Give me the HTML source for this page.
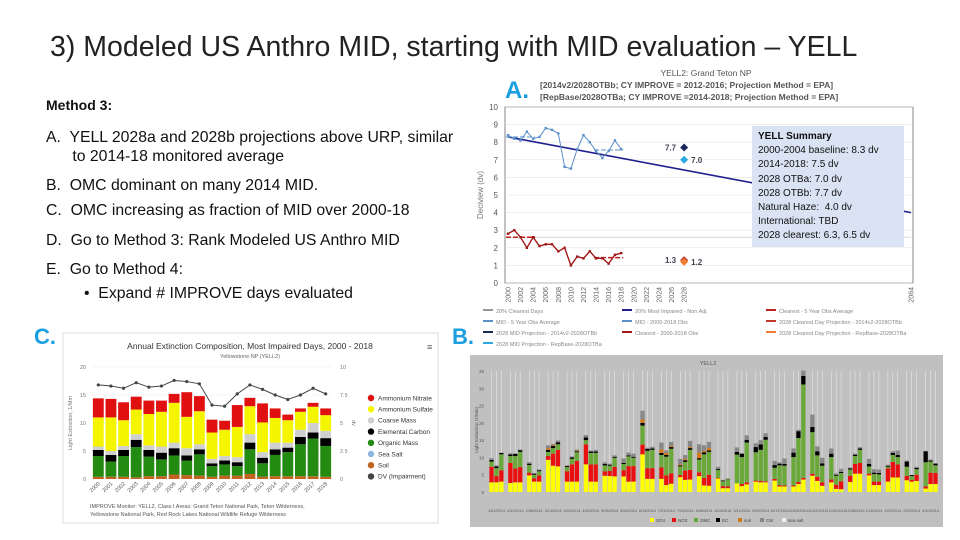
<!DOCTYPE html>
<html><head><meta charset="utf-8">
<style>
body{margin:0;width:960px;height:540px;background:#fff;position:relative;overflow:hidden;font-family:"Liberation Sans",sans-serif;}
.abs{position:absolute;}
.t{font-size:15.8px;color:#111;white-space:nowrap;}
svg{position:absolute;left:0;top:0;}
</style></head><body>
<div class="abs" style="left:50px;top:31px;font-size:28.5px;color:#222;white-space:nowrap;">3) Modeled US Anthro MID, starting with MID evaluation – YELL</div>
<div class="abs t" style="left:46px;top:97px;font-weight:bold;font-size:14px;">Method 3:</div>
<div class="abs t" style="left:46px;top:128px;line-height:19px;">A.&nbsp; YELL 2028a and 2028b projections above URP, similar<br>&nbsp;&nbsp;&nbsp;&nbsp;&nbsp; to 2014-18 monitored average</div>
<div class="abs t" style="left:46px;top:177px;">B.&nbsp; OMC dominant on many 2014 MID.</div>
<div class="abs t" style="left:46px;top:202px;">C.&nbsp; OMC increasing as fraction of MID over 2000-18</div>
<div class="abs t" style="left:46px;top:232px;">D.&nbsp; Go to Method 3: Rank Modeled US Anthro MID</div>
<div class="abs t" style="left:46px;top:261px;">E.&nbsp; Go to Method 4:</div>
<div class="abs t" style="left:84px;top:285px;">•&nbsp; Expand # IMPROVE days evaluated</div>
<div class="abs" style="left:505px;top:77px;font-size:24px;color:#1aa0e0;font-weight:bold;">A.</div>
<div class="abs" style="left:452px;top:324px;font-size:22px;color:#1aa0e0;font-weight:bold;">B.</div>
<div class="abs" style="left:34px;top:324px;font-size:22px;color:#1aa0e0;font-weight:bold;">C.</div>

<svg id="s" width="960" height="540"></svg>

<div class="abs" style="left:752px;top:126px;width:146px;height:117px;background:#dae3f3;padding:4px 0 0 6px;font-size:10px;line-height:14.2px;color:#111;white-space:nowrap;">
<b>YELL Summary</b><br>2000-2004 baseline: 8.3 dv<br>2014-2018: 7.5 dv<br>2028 OTBa: 7.0 dv<br>2028 OTBb: 7.7 dv<br>Natural Haze:&nbsp; 4.0 dv<br>International: TBD<br>2028 clearest: 6.3, 6.5 dv</div>

<script>
// ---------- Chart A data ----------
const aYears=[2000,2001,2002,2003,2004,2005,2006,2007,2008,2009,2010,2011,2012,2013,2014,2015,2016,2017,2018];
const aMid=[8.4,8.2,8.1,8.6,8.2,8.3,8.8,8.7,8.5,6.6,6.5,7.6,8.4,8.0,7.5,7.1,7.5,8.1,7.6];
const aClear=[2.8,3.0,2.6,2.0,2.6,2.1,2.2,2.2,1.8,2.0,1.0,1.5,1.4,1.8,1.4,1.4,1.1,1.6,1.7];
const aGlide=[8.3,4.0];
const aProj=[7.7,7.0,1.3,1.2];
const aTicks=[0,1,2,3,4,5,6,7,8,9,10];
// ---------- Chart C data ----------
const cYears=[2000,2001,2002,2003,2004,2005,2006,2007,2008,2009,2010,2011,2012,2013,2014,2015,2016,2017,2018];
const cSoil=[.4,.4,.4,.3,.5,.5,.8,.7,.6,.4,.6,.6,.9,.4,.5,.5,.5,.5,.4];
const cOM=[3.7,2.7,3.7,5.4,3.5,3.0,3.4,2.6,3.8,1.9,2.0,1.7,4.4,2.4,3.8,4.3,5.7,6.7,5.5];
const cEC=[1.1,1.2,1.1,1.3,1.2,1.2,1.3,0.9,0.9,0.5,0.7,0.7,1.2,1.0,1.0,0.8,1.3,1.1,1.4];
const cCM=[0.6,0.7,0.7,1.0,0.8,1.1,1.0,1.3,0.9,0.8,0.8,0.9,1.5,1.0,1.2,0.9,1.3,1.7,1.3];
const cSO4=[5.2,6.0,4.6,4.4,5.6,6.2,7.1,5.6,5.9,4.7,4.7,5.4,5.0,5.3,4.4,4.0,3.2,2.9,2.8];
const cNO3=[3.4,3.3,3.2,2.3,2.4,2.0,1.6,4.4,2.7,2.3,1.6,3.9,1.5,3.4,1.7,1.0,0.6,0.7,1.2];
const cDV=[8.4,8.3,8.1,8.6,8.2,8.3,8.8,8.7,8.5,6.6,6.5,7.6,8.4,8.0,7.5,7.1,7.5,8.1,7.6];
const cTicksL=[0,5,10,15,20];
const cTicksR=["0","2.5","5","7.5","10"];
// ---------- Chart B data (per bar: 24 dates x 3 bars) ----------
const bSO4=[2.8,2.8,3,2.6,2.8,2.8,4.8,3,3,9.3,7.6,7.4,3,3,3,8,3,3,4.7,4.6,4.5,4.5,3,3,10.9,3.8,3.8,3.8,2,2.4,4.3,3.5,3.6,4.6,1.9,1.8,3.9,1.1,1.1,2.5,1.7,2.2,3,2.8,2.8,3.3,1.6,1.6,1.6,2.3,3.6,4.7,3.2,1.8,2.8,.9,.8,2.9,5.3,5.3,4.8,2,2,3,4.2,4.2,3.4,3,3.2,1,2.3,2.3];
const bNO3=[4.5,1.8,3.3,5.8,4,4.4,.8,1,1.8,1.1,3.5,4.8,3,5,6,5.8,5,5,1.3,1.5,2.8,1.8,4.5,4.5,2.8,3.1,3.1,3.3,2.8,3,.6,2.7,2.8,1.1,2.2,3.2,.2,.6,.5,0,.6,.6,.3,.4,.3,.5,.4,.3,.3,.6,.5,.6,1.2,1,.8,1.2,2.3,1.8,2.8,3.1,.5,1,1,3.8,4.5,3.8,1.3,.5,1.8,.6,3.3,3.2];
const bOM=[1.5,2.3,4.6,2,3.6,4.4,2.2,1,1.2,1.2,1.6,1.6,1.2,1.6,2.5,1.2,3.3,3.3,1.7,1.5,2.6,1.8,2.8,2.4,5.5,5,5.3,3.6,5.4,7.1,2.5,2.5,5.8,3.7,6.8,6.6,2.3,1.4,2.1,8.3,7.8,11.5,8.2,9,12,3.2,5.7,5.7,8.2,12.7,27,12,6.2,4.8,6.5,2.6,2.4,1.8,2.3,3.8,2.1,2.2,2.1,.5,2,2.1,2.6,1.1,1.6,7,3.2,2.2];
const bEC=[.5,.5,.4,.5,.6,.5,.4,.3,.3,.6,.6,.6,.3,.4,.3,.8,.4,.4,.4,.3,.3,.3,.3,.3,.8,.6,.4,.6,.5,.5,.3,.5,.5,.4,.6,.4,.3,.2,.1,.8,1,.8,1.5,1.6,.8,.8,.5,.5,1.3,2,2.5,1.5,1.2,.7,1,.3,.3,.3,.4,.4,.7,.4,.4,.3,.6,.6,1.5,.3,.4,3.2,.3,.5];
const bSoil=[0,0,0,0,0,0,0,0,0,.5,.3,0,0,0,.2,0,0,0,0,0,0,0,0,0,1,0,0,1,.6,.3,.3,.4,.3,1.6,.4,.7,0,0,0,0,0,0,0,0,0,0,0,0,0,0,0,0,0,0,0,0,0,0,0,0,0,0,0,0,0,0,0,0,0,0,0,0];
const bCM=[.5,.3,0,.3,.2,.2,.4,.2,.2,.8,.3,.5,.2,.3,.3,.7,.3,.5,.5,.3,.4,1.3,.8,.9,2.5,.3,.5,2,.7,1.2,1.6,1.1,1.8,2.4,1.6,1.8,.6,.2,.1,1.3,0,1.3,1.1,1.2,1.1,1.2,.4,1.6,1.2,.4,1.5,3.6,1.4,1.6,1.5,.4,.9,.3,.3,.4,1.5,1,1,.3,.5,1.3,.3,0,.3,.1,.3,.2];
const bDates=["1/01/2014","1/31/2014","2/06/2014","3/14/2014","4/02/2014","4/20/2014","5/08/2014","5/26/2014","6/13/2014","7/01/2014","7/19/2014","8/06/2014","8/24/2014","9/11/2014","9/29/2014","10/17/2014","11/04/2014","11/22/2014","12/10/2014","12/28/2014","1/15/2014","2/02/2014","2/20/2014","3/10/2014"];

const S=document.getElementById('s');const NS='http://www.w3.org/2000/svg';
function mk(tag,at,txt){const e=document.createElementNS(NS,tag);for(const k in at)e.setAttribute(k,at[k]);if(txt!==undefined)e.textContent=txt;S.appendChild(e);return e;}

// ===== Chart A =====
const axL=505,axR=913,axT=107,axB=283;
const ay=v=>axB-(v/10)*(axB-axT);
const ax=yr=>yr<=2028?508+(yr-2000)*6.29:911;
let e;
e=mk('text',{x:706,y:76,'font-size':8.5,'text-anchor':'middle',fill:'#555'},'YELL2: Grand Teton NP');

e=mk('text',{x:540,y:88,'font-size':8.5,'font-weight':'bold',fill:'#555'},'[2014v2/2028OTBb; CY IMPROVE = 2012-2016; Projection Method = EPA]');

e=mk('text',{x:540,y:100,'font-size':8.5,'font-weight':'bold',fill:'#555'},'[RepBase/2028OTBa; CY IMPROVE =2014-2018; Projection Method = EPA]');

e=mk('rect',{x:axL,y:axT,width:axR-axL,height:axB-axT,fill:'#fff',stroke:'#666','stroke-width':0.8});

aTicks.forEach(t=>{
 e=mk('line',{x1:axL,x2:axR,y1:ay(t),y2:ay(t),stroke:'#e4e4e4','stroke-width':0.6});
 
 e=mk('text',{x:498,y:ay(t)+3,'font-size':8,fill:'#555','text-anchor':'end'},t);
 
});
e=mk('text',{x:0,y:0,'font-size':8,fill:'#777','text-anchor':'middle',transform:'translate(483,195) rotate(-90)'},'Deciview (dv)');

const xl=[];for(let y=2000;y<=2028;y+=2)xl.push(y);xl.push(2064);
xl.forEach(y=>{e=mk('text',{x:0,y:0,'font-size':7,fill:'#666','text-anchor':'end',transform:`translate(${ax(y)+2.5},287) rotate(-90)`},y);
 });
e=mk('line',{x1:ax(2000),y1:ay(aGlide[0]),x2:ax(2064),y2:ay(aGlide[1]),stroke:'#1f1f8f','stroke-width':1.6});

e=mk('line',{x1:ax(2000),x2:ax(2064),y1:ay(2.6),y2:ay(2.6),stroke:'#ccc','stroke-width':0.8});

function avg(a,i,j){let s=0;for(let k=i;k<j;k++)s+=a[k];return s/(j-i);}
[[0,5],[14,19]].forEach(([i,j])=>{
 e=mk('line',{x1:ax(aYears[i])-2,x2:ax(aYears[j-1])+2,y1:ay(avg(aMid,i,j)),y2:ay(avg(aMid,i,j)),stroke:'#6a9fd4','stroke-width':1.2,'stroke-dasharray':'5,2'});
 
 e=mk('line',{x1:ax(aYears[i])-2,x2:ax(aYears[j-1])+2,y1:ay(avg(aClear,i,j)),y2:ay(avg(aClear,i,j)),stroke:'#b22','stroke-width':1.5,'stroke-dasharray':'5,2'});
 
});
e=mk('polyline',{points:aYears.map((y,i)=>ax(y)+','+ay(aMid[i])).join(' '),fill:'none',stroke:'#5b8fc9','stroke-width':1});

e=mk('polyline',{points:aYears.map((y,i)=>ax(y)+','+ay(aClear[i])).join(' '),fill:'none',stroke:'#a01818','stroke-width':1.4});

aYears.forEach((y,i)=>{e=mk('rect',{x:ax(y)-1.2,y:ay(aMid[i])-1.2,width:2.4,height:2.4,fill:'#5b8fc9'});
 
 e=mk('rect',{x:ax(y)-1.2,y:ay(aClear[i])-1.2,width:2.4,height:2.4,fill:'#a01818'});
 });
const pc=['#1a2a5a','#2ea8e0','#c0392b','#f08030'];
aProj.forEach((v,i)=>{const cx=ax(2028),cy=ay(v);
 e=mk('path',{d:`M${cx},${cy-4} L${cx+4},${cy} L${cx},${cy+4} L${cx-4},${cy}Z`,fill:pc[i]});
 
 const left=(i%2==0);
 e=mk('text',{x:left?cx-8:cx+7,y:cy+3,'font-size':8,'font-weight':'bold',fill:'#445','text-anchor':left?'end':'start'},v.toFixed(1));
 });
const lg=[['20% Clearest Days',483,313,'#999'],['20% Most Impaired - Non Adj',622,313,'#1f1f8f'],['Clearest - 5 Year Obs Average',766,313,'#b22'],
['MID - 5 Year Obs Average',483,324,'#5b8fc9'],['MID - 2000-2018 Obs',622,324,'#5b8fc9'],['2028 Clearest Day Projection - 2014v2-2028OTBb',766,324,'#c0392b'],
['2028 MID Projection - 2014v2-2028OTBb',483,335,'#1a2a5a'],['Clearest - 2000-2018 Obs',622,335,'#a01818'],['2028 Clearest Day Projection - RepBase-2028OTBa',766,335,'#f08030'],
['2028 MID Projection - RepBase-2028OTBa',483,346,'#2ea8e0']];
lg.forEach(([t,x,y,c])=>{e=mk('rect',{x:x,y:y-4,width:10,height:2,fill:c});
 
 e=mk('text',{x:x+13,y:y,'font-size':5.5,fill:'#888'},t);
 });

// ===== Chart C =====
e=mk('rect',{x:63,y:333,width:375,height:190,fill:'#fff',stroke:'#ddd','stroke-width':1});

e=mk('text',{x:250,y:349,'font-size':8.5,'text-anchor':'middle',fill:'#333'},'Annual Extinction Composition, Most Impaired Days, 2000 - 2018');

e=mk('text',{x:250,y:358,'font-size':5.5,'text-anchor':'middle',fill:'#666'},'Yellowstone NP (YELL2)');

e=mk('text',{x:427,y:350,'font-size':9,fill:'#555'},'≡');

const cL=92,cR=332,cT=367,cB=479;
const cy=v=>cB-(v/20)*(cB-cT);const cyr=v=>cB-(v/10)*(cB-cT);
const cw=(cR-cL)/cYears.length;
cTicksL.forEach((t,i)=>{e=mk('line',{x1:cL,x2:cR,y1:cy(t),y2:cy(t),stroke:'#eee','stroke-width':0.6});
 
 e=mk('text',{x:cL-6,y:cy(t)+2,'font-size':5.5,fill:'#777','text-anchor':'end'},t);
 
 e=mk('text',{x:cR+8,y:cy(t)+2,'font-size':5.5,fill:'#777'},cTicksR[i]);
 });
e=mk('text',{x:0,y:0,'font-size':5.5,fill:'#777','text-anchor':'middle',transform:'translate(72,423) rotate(-90)'},'Light Extinction, 1/Mm');

e=mk('text',{x:0,y:0,'font-size':5.5,fill:'#777','text-anchor':'middle',transform:'translate(352,423) rotate(90)'},'dv');

const cSeries=[[cSoil,'#c2631f'],[cOM,'#238b12'],[cEC,'#000'],[cCM,'#cfcfcf'],[cSO4,'#f5f500'],[cNO3,'#e01010']];
cYears.forEach((yr,i)=>{let acc=0;const x=cL+i*cw+cw*0.07,w=cw*0.86;
 cSeries.forEach(([arr,col])=>{const v=arr[i];
  e=mk('rect',{x:x,y:cy(acc+v),width:w,height:cy(acc)-cy(acc+v),fill:col});
  acc+=v;});
 e=mk('text',{x:0,y:0,'font-size':5.5,fill:'#555','text-anchor':'end',transform:`translate(${x+w/2+2},${cB+5}) rotate(-45)`},yr);
 });
e=mk('polyline',{points:cYears.map((y,i)=>(cL+i*cw+cw/2)+','+cyr(cDV[i])).join(' '),fill:'none',stroke:'#444','stroke-width':1});

cYears.forEach((y,i)=>{e=mk('circle',{cx:cL+i*cw+cw/2,cy:cyr(cDV[i]),r:1.6,fill:'#444'});
 });
const cLeg=[['Ammonium Nitrate','#e01010'],['Ammonium Sulfate','#f5f500'],['Coarse Mass','#cfcfcf'],['Elemental Carbon','#000'],['Organic Mass','#238b12'],['Sea Salt','#8fb8e0'],['Soil','#c2631f'],['DV (Impairment)','#444']];
cLeg.forEach(([t,c],i)=>{const y=398+i*11.2;
 e=mk('circle',{cx:371,cy:y,r:3.2,fill:c});
 e=mk('text',{x:378,y:y+2.3,'font-size':6.5,fill:'#333'},t);});
e=mk('text',{x:90,y:508,'font-size':5.5,fill:'#555'},'IMPROVE Monitor: YELL2, Class I Areas: Grand Teton National Park, Teton Wilderness,');

e=mk('text',{x:90,y:516,'font-size':5.5,fill:'#555'},'Yellowstone National Park, Red Rock Lakes National Wildlife Refuge Wilderness');


// ===== Chart B =====
e=mk('rect',{x:470,y:355,width:473,height:172,fill:'#c0c0c0'});

e=mk('text',{x:708,y:365,'font-size':5.5,fill:'#555','text-anchor':'middle'},'YELL2');

const bL=487,bR=940,bT=371,bB=492;
const by=v=>bB-(v/35)*(bB-bT);
[0,5,10,15,20,25,30,35].forEach(t=>{e=mk('text',{x:bL-3,y:by(t)+2,'font-size':4.5,fill:'#555','text-anchor':'end'},t);
 });
e=mk('text',{x:0,y:0,'font-size':4.5,fill:'#555','text-anchor':'middle',transform:'translate(478,430) rotate(-90)'},'Light Extinction (1/Mm)');

const nB=bSO4.length,gw=(bR-bL)/bDates.length,bw=gw*0.26;
const bSeries=[[bSO4,'#ffff00'],[bNO3,'#e81010'],[bOM,'#6aa83a'],[bEC,'#000'],[bSoil,'#d07a1a'],[bCM,'#888']];
for(let i=0;i<nB;i++){const g=Math.floor(i/3),k=i%3;const x=bL+g*gw+gw*0.11+k*bw;
 e=mk('line',{x1:x+bw/2,x2:x+bw/2,y1:bT,y2:bB,stroke:'#e8e8e8','stroke-width':0.6});
 
 let acc=0;bSeries.forEach(([arr,col])=>{const v=arr[i];if(v<=0)return;
  e=mk('rect',{x:x+0.3,y:by(acc+v),width:bw-0.6,height:by(acc)-by(acc+v),fill:col});
  acc+=v;});}
bDates.forEach((d,g)=>{e=mk('text',{x:bL+(g+0.5)*gw,y:512,'font-size':3.8,fill:'#555','text-anchor':'middle'},d);
 });
const bLeg=[['SO4','#ffff00'],['NO3','#e81010'],['OMC','#6aa83a'],['EC','#000'],['soil','#d07a1a'],['CM','#888'],['sea salt','#eee']];
bLeg.forEach(([t,c],i)=>{const x=650+i*22;
 e=mk('rect',{x:x,y:518,width:4,height:4,fill:c});
 e=mk('text',{x:x+6,y:522,'font-size':4.5,fill:'#444'},t);});
</script>
</body></html>
